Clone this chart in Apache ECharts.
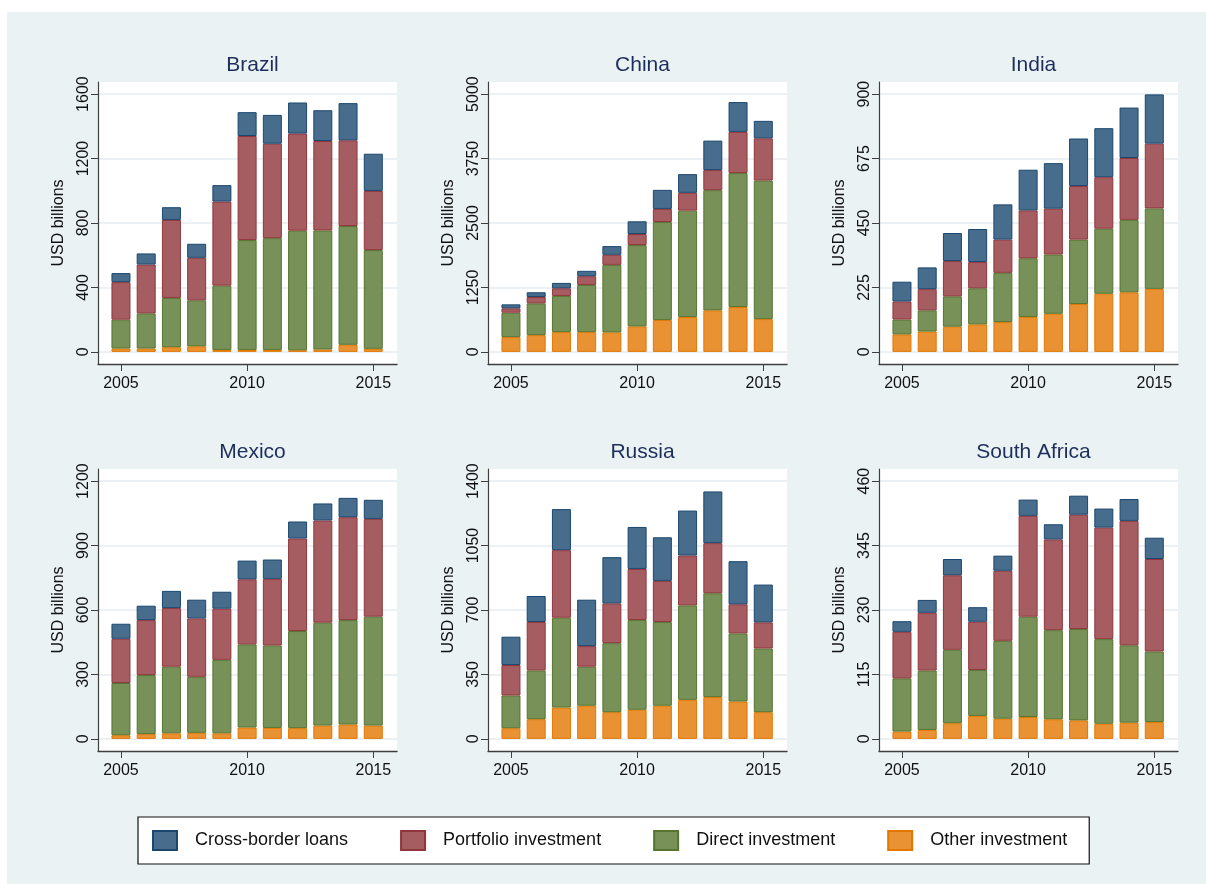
<!DOCTYPE html>
<html>
<head>
<meta charset="utf-8">
<title>External liabilities by type</title>
<script src="https://cdn.jsdelivr.net/npm/echarts@6/dist/echarts.min.js"></script>
<style>
  html, body { margin: 0; padding: 0; background: #ffffff; }
  #chart { width: 1206px; height: 884px; }
</style>
</head>
<body>
<div id="chart"></div>
<script>
// Years on the horizontal axis
const years = [2005, 2006, 2007, 2008, 2009, 2010, 2011, 2012, 2013, 2014, 2015];
const yearTicks = [2005, 2010, 2015];

// Panel names and the top tick of each vertical axis (USD billions)
const countries = ['Brazil', 'China', 'India', 'Mexico', 'Russia', 'South Africa'];
const axisTops = [1600, 5000, 900, 1200, 1400, 460];

const seriesNames = ['Cross-border loans', 'Portfolio investment', 'Direct investment', 'Other investment'];

// Brazil
const brazilOther     = [21, 21, 29, 35, 12, 12, 12, 10, 15, 44, 19];
const brazilDirect    = [179, 218, 306, 285, 399, 682, 694, 742, 739, 737, 613];
const brazilPortfolio = [233, 303, 484, 264, 522, 646, 586, 603, 555, 532, 367];
const brazilLoans     = [56, 69, 79, 87, 102, 148, 179, 193, 191, 231, 231];

// China
const chinaOther     = [286, 325, 383, 383, 377, 494, 617, 675, 805, 870, 636];
const chinaDirect    = [474, 617, 702, 916, 1311, 1578, 1903, 2065, 2332, 2598, 2689];
const chinaPortfolio = [84, 123, 149, 169, 195, 214, 253, 345, 389, 799, 818];
const chinaLoans     = [78, 91, 104, 104, 169, 247, 370, 363, 572, 578, 338];

// India
const indiaOther     = [61, 71, 88, 96, 104, 122, 133, 167, 203, 208, 220];
const indiaDirect    = [52, 74, 106, 126, 172, 205, 207, 225, 227, 253, 281];
const indiaPortfolio = [63, 74, 123, 92, 116, 167, 160, 187, 180, 216, 226];
const indiaLoans     = [69, 76, 98, 115, 123, 142, 159, 166, 171, 176, 172];

// Mexico
const mexicoOther     = [17, 22, 26, 28, 26, 53, 51, 50, 62, 67, 62];
const mexicoDirect    = [243, 275, 310, 261, 342, 387, 384, 452, 479, 486, 507];
const mexicoPortfolio = [206, 256, 273, 272, 238, 303, 310, 431, 476, 479, 455];
const mexicoLoans     = [70, 67, 80, 87, 79, 87, 90, 79, 79, 90, 89];

// Russia
const russiaOther     = [58, 107, 170, 180, 145, 158, 180, 212, 227, 203, 145];
const russiaDirect    = [178, 265, 488, 212, 375, 488, 455, 513, 564, 370, 346];
const russiaPortfolio = [165, 263, 367, 112, 216, 277, 223, 271, 272, 158, 142];
const russiaLoans     = [154, 141, 223, 252, 251, 228, 237, 244, 281, 234, 205];

// South Africa
const southAfricaOther     = [13, 16, 28, 41, 36, 39, 35, 33, 27, 29, 30];
const southAfricaDirect    = [95, 106, 131, 82, 139, 179, 159, 163, 151, 138, 126];
const southAfricaPortfolio = [83, 103, 133, 86, 125, 180, 162, 204, 199, 222, 165];
const southAfricaLoans     = [19, 23, 29, 26, 27, 29, 27, 34, 34, 39, 38];

// Stacking order per panel: bottom to top
const panelData = [
  [brazilOther, brazilDirect, brazilPortfolio, brazilLoans],
  [chinaOther, chinaDirect, chinaPortfolio, chinaLoans],
  [indiaOther, indiaDirect, indiaPortfolio, indiaLoans],
  [mexicoOther, mexicoDirect, mexicoPortfolio, mexicoLoans],
  [russiaOther, russiaDirect, russiaPortfolio, russiaLoans],
  [southAfricaOther, southAfricaDirect, southAfricaPortfolio, southAfricaLoans]
];
const stackNames = ['Other investment', 'Direct investment', 'Portfolio investment', 'Cross-border loans'];

// Fill / outline colours for each component
const styles = {
  'Cross-border loans':   { fill: '#486C8C', line: '#1A476F' },
  'Portfolio investment': { fill: '#A65D62', line: '#90353B' },
  'Direct investment':    { fill: '#779159', line: '#55752F' },
  'Other investment':     { fill: '#E99233', line: '#E37700' }
};

const FONT = '"Liberation Sans", Arial, Helvetica, sans-serif';
const AXIS_COLOR = '#3f3f3f';
const colLefts = [98, 488, 879];
const rowTops = [82, 469];
const plotW = 299, plotH = 282;
const pad = 0.047;
const plain = v => String(v);

const grids = [], xAxes = [], yAxes = [], titles = [], series = [];

countries.forEach((name, i) => {
  const left = colLefts[i % 3];
  const top = rowTops[Math.floor(i / 3)];
  const T = axisTops[i];
  const yTicks = [0, T / 4, T / 2, 3 * T / 4, T];

  grids.push({
    left: left, top: top, width: plotW, height: plotH,
    show: true, backgroundColor: '#ffffff', borderWidth: 0
  });

  titles.push({
    text: name,
    left: left + plotW / 2,
    top: top - 32,
    textAlign: 'center',
    textStyle: { fontFamily: FONT, fontSize: 21, fontWeight: 'normal', color: '#1E2E5C' }
  });

  xAxes.push({
    type: 'value', gridIndex: i,
    min: 2004.09, max: 2015.94,
    axisLine: { show: true, onZero: false, lineStyle: { color: AXIS_COLOR, width: 1.4 } },
    axisTick: { show: true, length: 7, customValues: yearTicks, lineStyle: { color: AXIS_COLOR, width: 1 } },
    axisLabel: { customValues: yearTicks, formatter: plain, margin: 12, fontFamily: FONT, fontSize: 16, color: '#111111' },
    splitLine: { show: false }
  });

  yAxes.push({
    type: 'value', gridIndex: i,
    min: -pad * T, max: (1 + pad) * T,
    name: 'USD billions', nameLocation: 'middle', nameGap: 31, nameRotate: 90,
    nameTextStyle: { fontFamily: FONT, fontSize: 16, color: '#111111' },
    axisLine: { show: true, onZero: false, lineStyle: { color: AXIS_COLOR, width: 1.2 } },
    axisTick: { show: true, length: 7, customValues: yTicks, lineStyle: { color: AXIS_COLOR, width: 1 } },
    axisLabel: { customValues: yTicks, formatter: plain, rotate: 90, margin: 6, fontFamily: FONT, fontSize: 16, color: '#111111' },
    splitLine: { show: true, lineStyle: { color: '#E4EDF1', width: 1.5 } }
  });

  panelData[i].forEach((values, k) => {
    const sName = stackNames[k];
    series.push({
      name: sName,
      type: 'bar',
      xAxisIndex: i, yAxisIndex: i,
      stack: 'panel' + i,
      barWidth: 19,
      // value first so the stack is built on the vertical dimension
      encode: { x: 1, y: 0 },
      itemStyle: { color: styles[sName].fill, borderColor: styles[sName].line, borderWidth: 1 },
      emphasis: { disabled: true },
      data: years.map((y, j) => [values[j], y])
    });
  });
});

const chart = echarts.init(document.getElementById('chart'), null, { renderer: 'canvas' });
chart.setOption({
  animation: false,
  backgroundColor: '#ffffff',
  graphic: [{
    type: 'rect', z: -10, silent: true,
    shape: { x: 7, y: 12, width: 1199, height: 872 },
    style: { fill: '#EAF2F3' }
  }],
  title: titles,
  grid: grids,
  xAxis: xAxes,
  yAxis: yAxes,
  legend: {
    data: seriesNames,
    left: 138, top: 817,
    orient: 'horizontal',
    padding: [13, 22, 13, 14],
    itemGap: 52,
    itemWidth: 24, itemHeight: 19,
    icon: 'rect',
    backgroundColor: '#ffffff',
    borderColor: '#111111', borderWidth: 1.2,
    selectedMode: false,
    textStyle: { fontFamily: FONT, fontSize: 18, color: '#111111', padding: [0, 0, 0, 13] }
  },
  series: series
});
</script>
</body>
</html>
